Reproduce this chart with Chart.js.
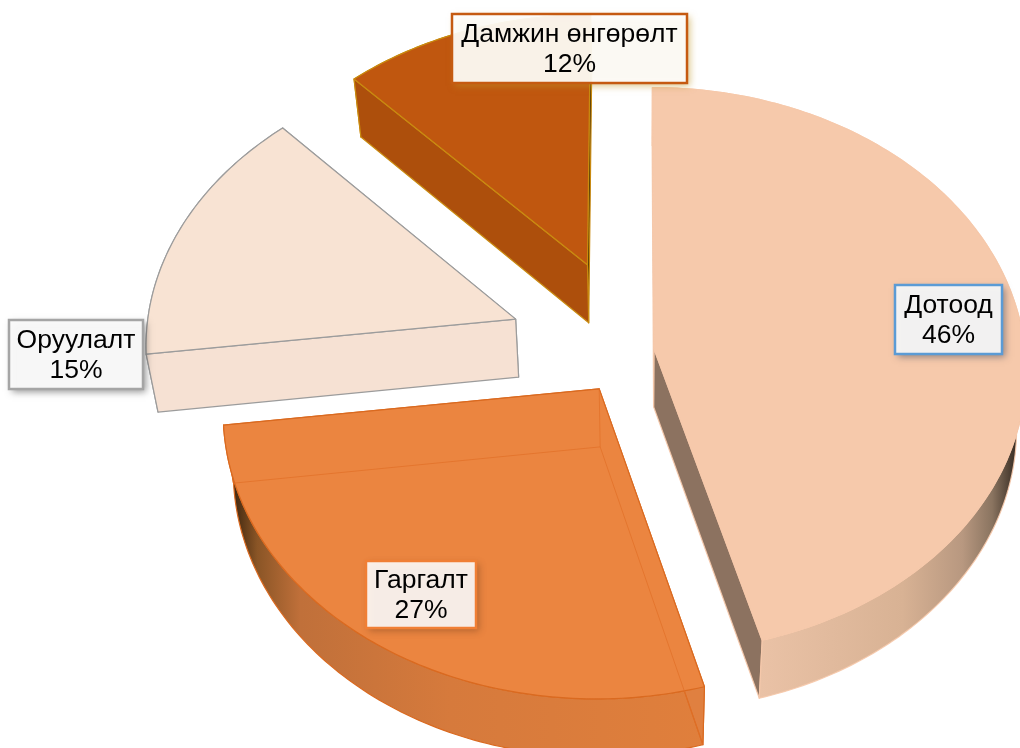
<!DOCTYPE html>
<html>
<head>
<meta charset="utf-8">
<style>
  html, body { margin: 0; padding: 0; background: #fff; }
  #wrap { width: 1020px; height: 748px; overflow: hidden; }
</style>
<script src="https://cdn.jsdelivr.net/npm/chart.js@4/dist/chart.umd.min.js"></script>
</head>
<body>
<div id="wrap"><canvas id="chart" width="1020" height="748"></canvas></div>
<script>
const categories = ["Дотоод", "Гаргалт", "Оруулалт", "Дамжин өнгөрөлт"];
const shares = [45.7, 27.3, 15, 12];
const explode = [52, 143, 301, 301];

const topColors = ["#F6C9AB", "#EB8540", "#F8E3D3", "#C0570F"];
const edgeColors = ["rgba(246,201,171,0.9)", "#DA6A20", "#9C9C9C", "#C98A10"];
const startWallColors = ["#B89A86", "#E08040", "#F6E1D3", "#AD4F0C"];
const endWallColors = ["#8C7260", "#E08040", "#F6E1D3", "#3A2A05"];
const outerWallStops = [
  [[0, "#F0C8AC"], [0.29, "#EAC2A6"], [0.67, "#D8B294"], [0.83, "#B89880"], [0.91, "#8A7460"], [0.96, "#4A3C30"], [1, "#1E1812"]],
  [[0, "#2E1C0E"], [0.03, "#4E3014"], [0.07, "#8A5526"], [0.16, "#C0703A"], [0.47, "#D67A3C"], [1, "#E07F3C"]],
  [[0, "#C8B4A6"], [0.05, "#F6E1D3"], [1, "#F6E1D3"]],
  [[0, "#AD4F0C"], [1, "#AD4F0C"]],
];
// only the orange slice is see-through in the original
const hiddenEdgeColors = [null, "rgba(226,112,40,0.75)", null, null];

const labelBoxes = [
  { x: 895, y: 285, w: 107, h: 69, line: "#5B9BD5", fill: "rgba(245,245,245,0.97)", shadow: "rgba(60,70,90,0.55)" },
  { x: 366, y: 561, w: 110, h: 67, line: "#F07F35", fill: "rgba(255,255,255,0.88)", shadow: "rgba(110,60,30,0.5)" },
  { x: 9, y: 320, w: 134, h: 69, line: "#A5A5A5", fill: "rgba(250,250,250,0.97)", shadow: "rgba(60,60,60,0.55)" },
  { x: 452, y: 14, w: 235, h: 69, line: "#C55A11", fill: "rgba(255,255,255,0.9)", shadow: "rgba(190,150,40,0.6)" },
];

// fake 3d camera, the pie plane seen with a bit of perspective
const cam = { cx: 632.5, cy: 351, rx: 371, ry: 281, p: 0.0745, depth: 58, vanishX: 640, squeeze: 0.024 };

function project(wx, wy) {
  const w = 1 - cam.p * wy;
  return { x: cam.cx + (cam.rx * wx) / w, y: cam.cy + (cam.ry * wy) / w };
}

function drop(pt) {
  return { x: pt.x + cam.squeeze * (cam.vanishX - pt.x), y: pt.y + cam.depth };
}

function tracePath(ctx, pts) {
  ctx.beginPath();
  pts.forEach((pt, i) => (i ? ctx.lineTo(pt.x, pt.y) : ctx.moveTo(pt.x, pt.y)));
  ctx.closePath();
}

function paintShape(ctx, pts, fill, stroke, lineWidth) {
  tracePath(ctx, pts);
  ctx.fillStyle = fill;
  ctx.fill();
  if (stroke) {
    ctx.strokeStyle = stroke;
    ctx.lineWidth = lineWidth;
    ctx.stroke();
  }
}

class Arc3D extends Chart.ArcElement {
  static id = "arc3d";

  draw(ctx) {
    const { startAngle, endAngle, outerRadius } = this.getProps(["startAngle", "endAngle", "outerRadius"]);
    const options = this.options;
    const index = this.$context.dataIndex;
    const mid = (startAngle + endAngle) / 2;
    const shift = (options.offset || 0) / 4 / outerRadius;
    const ox = Math.cos(mid) * shift;
    const oy = Math.sin(mid) * shift;

    const apex = project(ox, oy);
    const rim = [];
    const steps = Math.ceil(((endAngle - startAngle) * 180) / Math.PI);
    for (let i = 0; i <= steps; i++) {
      const a = startAngle + ((endAngle - startAngle) * i) / steps;
      rim.push(project(ox + Math.cos(a), oy + Math.sin(a)));
    }
    const apexLow = drop(apex);
    const rimLow = rim.map(drop);
    const first = rim[0];
    const last = rim[rim.length - 1];
    const firstLow = rimLow[0];
    const lastLow = rimLow[rimLow.length - 1];
    const edge = options.borderColor;
    const width = options.borderWidth;

    ctx.save();
    ctx.lineJoin = "round";

    // back to front: end wall, rim wall, start wall, then the top face
    paintShape(ctx, [apex, last, lastLow, apexLow], endWallColors[index], edge, width);

    const xs = rim.concat(rimLow).map((pt) => pt.x);
    const grad = ctx.createLinearGradient(Math.min(...xs), 0, Math.max(...xs), 0);
    outerWallStops[index].forEach(([at, color]) => grad.addColorStop(at, color));
    paintShape(ctx, rim.concat(rimLow.slice().reverse()), grad, edge, width);

    paintShape(ctx, [apex, first, firstLow, apexLow], startWallColors[index], edge, width);
    paintShape(ctx, [apex].concat(rim), options.backgroundColor, edge, width);

    const hidden = hiddenEdgeColors[index];
    if (hidden) {
      ctx.strokeStyle = hidden;
      ctx.lineWidth = 1;
      ctx.beginPath();
      ctx.moveTo(apex.x, apex.y);
      ctx.lineTo(apexLow.x, apexLow.y);
      ctx.lineTo(firstLow.x, firstLow.y);
      ctx.moveTo(apexLow.x, apexLow.y);
      ctx.lineTo(lastLow.x, lastLow.y);
      ctx.stroke();
    }
    ctx.restore();
  }
}

class Pie3DController extends Chart.PieController {
  static id = "pie3d";
  static defaults = { dataElementType: "arc3d" };
}

Chart.register(Pie3DController, Arc3D);

const boxLabels = {
  id: "boxLabels",
  afterDatasetsDraw(chart) {
    const ctx = chart.ctx;
    const total = shares.reduce((a, b) => a + b, 0);
    ctx.save();
    labelBoxes.forEach((box, i) => {
      ctx.save();
      ctx.shadowColor = box.shadow;
      ctx.shadowBlur = 7;
      ctx.shadowOffsetX = 3;
      ctx.shadowOffsetY = 3;
      ctx.fillStyle = box.fill;
      ctx.fillRect(box.x, box.y, box.w, box.h);
      ctx.restore();
      ctx.strokeStyle = box.line;
      ctx.lineWidth = 2.5;
      ctx.strokeRect(box.x, box.y, box.w, box.h);

      ctx.fillStyle = "#000";
      ctx.font = '26.5px "Liberation Sans"';
      ctx.textAlign = "center";
      ctx.textBaseline = "middle";
      const mx = box.x + box.w / 2;
      const my = box.y + box.h / 2;
      ctx.fillText(categories[i], mx, my - 14);
      ctx.fillText(Math.round((shares[i] / total) * 100) + "%", mx, my + 16);
    });
    ctx.restore();
  },
};

new Chart(document.getElementById("chart").getContext("2d"), {
  type: "pie3d",
  data: {
    labels: categories,
    datasets: [
      {
        data: shares,
        offset: explode,
        backgroundColor: topColors,
        borderColor: edgeColors,
        borderWidth: 1.2,
      },
    ],
  },
  options: {
    responsive: false,
    animation: false,
    layout: { padding: 0 },
    plugins: { legend: { display: false }, tooltip: { enabled: false } },
  },
  plugins: [boxLabels],
});
</script>
</body>
</html>
